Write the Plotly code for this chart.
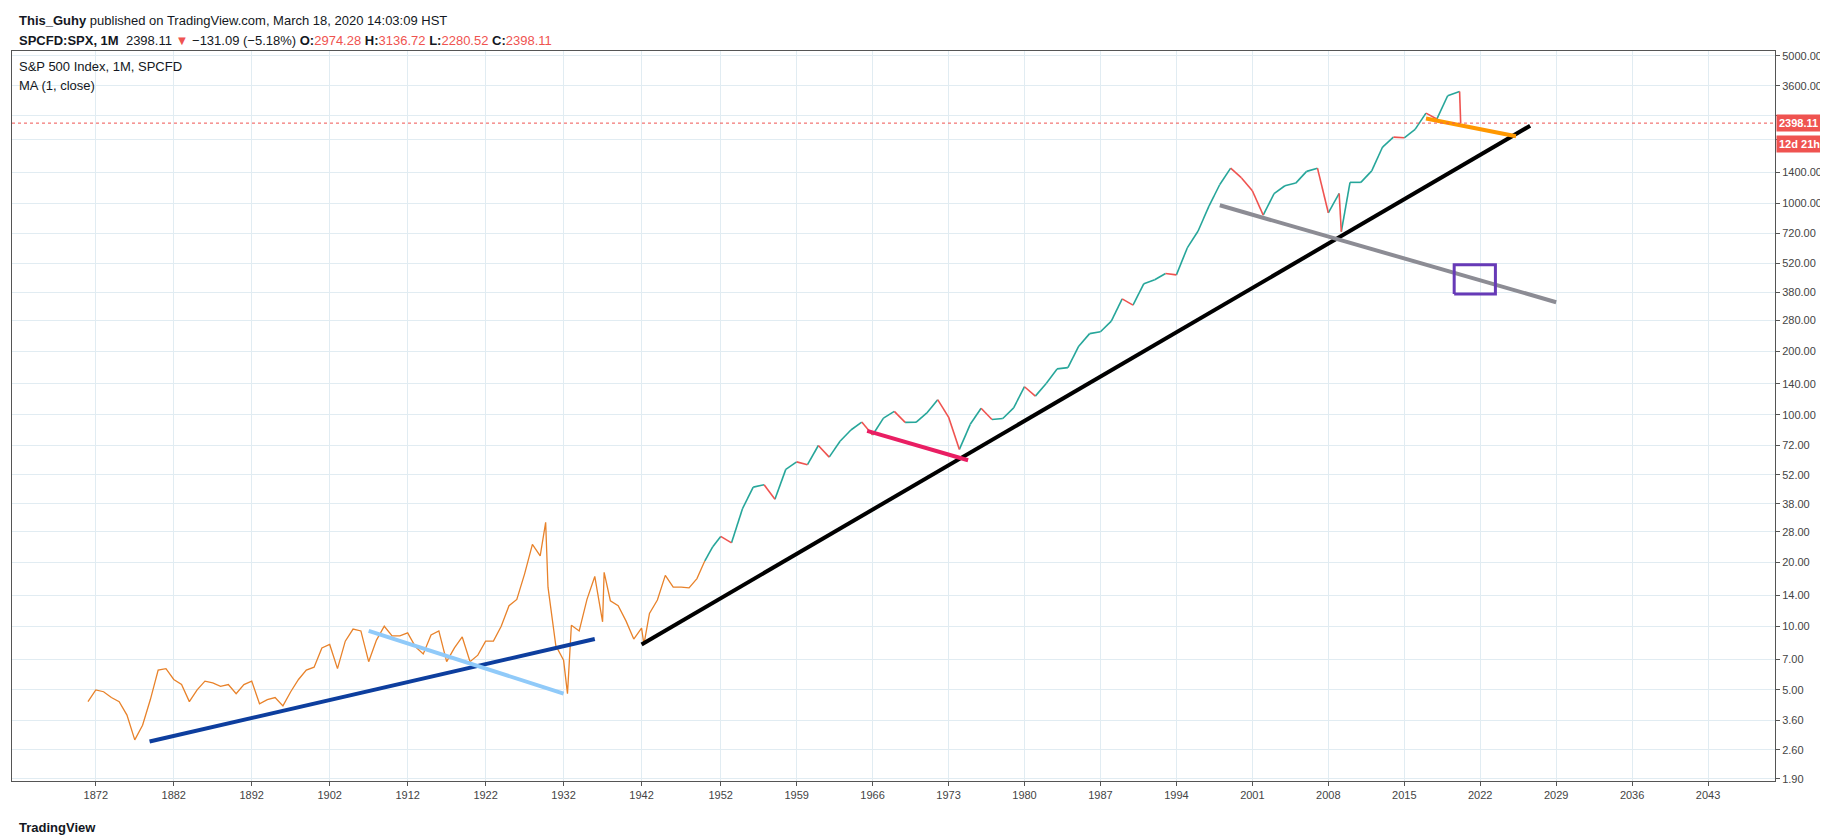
import numpy as np
import plotly.graph_objects as go

# yearly closes (approx); the last one is March 2020
years = list(range(1871, 2020)) + [2020.2]
closes = [4.4, 5.0, 4.9, 4.6, 4.4, 3.8, 2.9, 3.4, 4.5, 6.2, 6.3, 5.6, 5.3, 4.4, 5.0, 5.5, 5.4, 5.2, 5.3, 4.8,
          5.3, 5.5, 4.3, 4.5, 4.6, 4.2, 4.9, 5.6, 6.2, 6.4, 7.9, 8.2, 6.3, 8.5, 9.7, 9.5, 6.8, 8.6, 10.0, 9.0,
          9.0, 9.3, 8.0, 7.4, 9.1, 9.5, 6.8, 7.9, 8.9, 6.8, 7.3, 8.5, 8.5, 10.0, 12.5, 13.4, 17.7, 24.4, 21.5, 15.3,
          8.1, 6.9, 10.1, 9.5, 13.4, 17.2, 10.5, 13.2, 12.5, 10.6, 8.7, 9.8, 11.5, 13.3, 17.4, 15.3, 15.3, 15.2, 16.8, 20.4,
          23.8, 26.6, 24.8, 35.9, 45.5, 46.7, 39.9, 55.2, 59.9, 58.1, 71.6, 63.1, 75.0, 84.8, 92.4, 80.3, 96.5, 103.9, 92.1, 92.2,
          102.1, 118.0, 97.6, 68.6, 90.2, 107.5, 95.1, 96.1, 107.9, 135.8, 122.6, 140.6, 164.9, 167.2, 211.3, 242.2, 247.1, 277.7, 353.4, 330.2,
          417.1, 435.7, 466.5, 459.3, 615.9, 740.7, 970.4, 1229, 1469, 1320, 1148, 880, 1112, 1212, 1248, 1418, 1468, 903, 1115, 1258,
          1258, 1426, 1848, 2059, 2044, 2239, 2674, 2507, 3231, 2398.11]
# a few intra-year extremes
extreme_years = [1929.7, 1932.5, 1937.2, 1942.3, 2009.2, 2020.1]
extreme_vals = [31.0, 4.8, 18.0, 8.2, 735, 3386]

# drawn trend lines: (year0, price0, year1, price1, colour)
line_specs = [
    (1878.9, 2.85, 1936.0, 8.7, "#0d3e9e"),
    (1907.0, 9.5, 1932.0, 4.8, "#90caf9"),
    (1942.0, 8.2, 2026.6, 2330, "#000000"),
    (1965.5, 84, 1974.8, 61, "#e91e63"),
    (1998.0, 980, 2029.0, 341, "#8c8c94"),
    (2017.0, 2520, 2025.3, 2080, "#ff9800"),
]
box_years = [2019.6, 2023.4]
box_prices = [373, 513]
last_price = 2398.11

tick_years = [1872, 1882, 1892, 1902, 1912, 1922, 1932, 1942, 1952, 1959, 1966, 1973, 1980, 1987, 1994, 2001, 2008, 2015,
              2022, 2029, 2036, 2043]
tick_prices = [1.9, 2.6, 3.6, 5, 7, 10, 14, 20, 28, 38, 52, 72, 100, 140, 200, 280, 380, 520, 720, 1000, 1400, 2000, 2600, 3600, 5000]
hidden_labels = [2000, 2600]  # covered by the price tags

# TradingView compresses early history: piecewise time scale
anchor_years = [1860, 1872, 1942, 1952, 2060]
anchor_pos = [-8.4, 72, 541, 609, 1616]


def tx(y):
    return np.interp(y, anchor_years, anchor_pos)


pts = sorted(zip(years + extreme_years, closes + extreme_vals))

fig = go.Figure()

early_x = [tx(y) for y, v in pts if y <= 1950]
early_v = [v for y, v in pts if y <= 1950]
fig.add_trace(go.Scatter(x=early_x, y=early_v, mode="lines", line=dict(color="#e8822a", width=1.3), hoverinfo="skip"))

late = [(y, v) for y, v in pts if y >= 1950]
gx, gy, rx, ry = [], [], [], []
for (y0, v0), (y1, v1) in zip(late[:-1], late[1:]):
    if v1 >= v0:
        gx += [tx(y0), tx(y1), None]; gy += [v0, v1, None]
    else:
        rx += [tx(y0), tx(y1), None]; ry += [v0, v1, None]
fig.add_trace(go.Scatter(x=gx, y=gy, mode="lines", line=dict(color="#26a69a", width=1.6), hoverinfo="skip"))
fig.add_trace(go.Scatter(x=rx, y=ry, mode="lines", line=dict(color="#ef5350", width=1.6), hoverinfo="skip"))

for y0, p0, y1, p1, c in line_specs:
    fig.add_trace(go.Scatter(x=[tx(y0), tx(y1)], y=[p0, p1], mode="lines", line=dict(color=c, width=4), hoverinfo="skip"))

fig.add_trace(go.Scatter(x=[tx(box_years[0]), tx(box_years[1]), tx(box_years[1]), tx(box_years[0]), tx(box_years[0])],
                         y=[box_prices[0], box_prices[0], box_prices[1], box_prices[1], box_prices[0]],
                         mode="lines", line=dict(color="#673ab7", width=3), hoverinfo="skip"))

fig.add_shape(type="line", xref="paper", x0=0, x1=1, y0=last_price, y1=last_price,
              line=dict(color="#ef5350", width=1, dash="dot"))

grid = "#e1ecf2"
fig.update_xaxes(range=[0, 1515], tickvals=[tx(y) for y in tick_years], ticktext=[str(y) for y in tick_years],
                 showgrid=True, gridcolor=grid, zeroline=False, ticks="outside", ticklen=4, tickcolor="#555",
                 showline=True, linecolor="#555", mirror=True, tickfont=dict(size=11, color="#444"))
fig.update_yaxes(type="log", range=[0.268, 3.721], side="right", tickvals=tick_prices,
                 ticktext=["" if p in hidden_labels else "%.2f" % p for p in tick_prices], showgrid=True, gridcolor=grid,
                 zeroline=False, ticks="outside", ticklen=4, tickcolor="#555", showline=True, linecolor="#555", mirror=True,
                 tickfont=dict(size=11, color="#444"))

anns = [
    (825, "<b>This_Guhy</b> published on TradingView.com, March 18, 2020 14:03:09 HST"),
    (805, "<b>SPCFD:SPX, 1M</b>  2398.11 <span style='color:#ef5350'>▼</span> −131.09 (−5.18%) "
          "<b>O:</b><span style='color:#ef5350'>2974.28</span> <b>H:</b><span style='color:#ef5350'>3136.72</span> "
          "<b>L:</b><span style='color:#ef5350'>2280.52</span> <b>C:</b><span style='color:#ef5350'>2398.11</span>"),
    (779, "S&P 500 Index, 1M, SPCFD"),
    (760, "MA (1, close)"),
    (18, "<b>TradingView</b>"),
]
for yy, t in anns:
    fig.add_annotation(xref="paper", yref="paper", x=0.003, y=0, xanchor="left", yanchor="middle",
                       text=t, showarrow=False, font=dict(size=13, color="#131722"), yshift=yy - 64)

fig.add_annotation(xref="paper", x=1.0, y=np.log10(last_price), xanchor="left", xshift=1, text="<b>2398.11</b>",
                   showarrow=False, bgcolor="#ef5350", font=dict(color="white", size=11), borderpad=2)
fig.add_annotation(xref="paper", x=1.0, y=np.log10(last_price), yshift=-21, xanchor="left", xshift=1, text="<b>12d 21h</b>",
                   showarrow=False, bgcolor="#ef5350", font=dict(color="white", size=11), borderpad=2)

fig.update_layout(width=1828, height=837, margin=dict(l=4, r=61, t=43, b=64), showlegend=False,
                  plot_bgcolor="white", paper_bgcolor="white", font=dict(family="Liberation Sans, Arial"))
fig.write_html("out.html")
